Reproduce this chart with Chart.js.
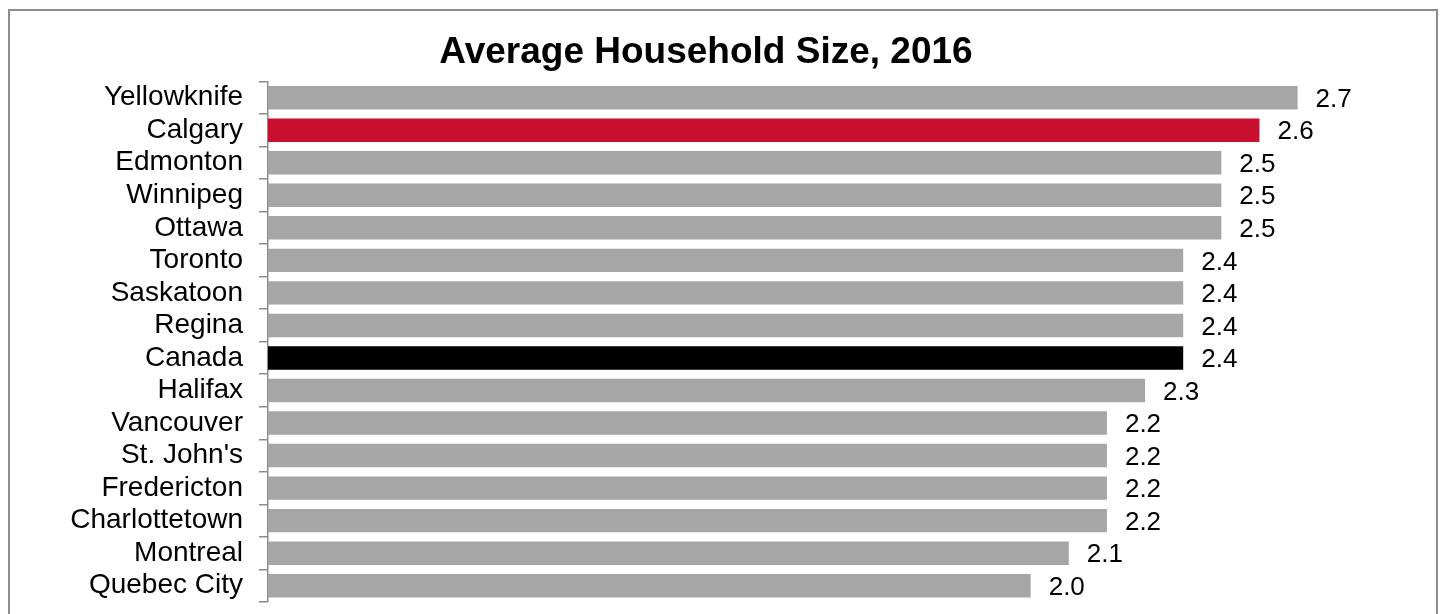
<!DOCTYPE html>
<html>
<head>
<meta charset="utf-8">
<script src="https://cdn.jsdelivr.net/npm/chart.js@4"></script>
<style>
  html, body { margin: 0; padding: 0; background: #fff; overflow: hidden; }
  #frame {
    position: absolute; left: 8px; top: 9px;
    width: 1426px; height: 700px;
    border: 2px solid #8c8c8c;
  }
  #chart { position: absolute; left: 0; top: 0; }
</style>
</head>
<body>
<div id="frame"></div>
<canvas id="chart" width="1442" height="614"></canvas>
<script>
// Data
const cities = ['Yellowknife', 'Calgary', 'Edmonton', 'Winnipeg', 'Ottawa', 'Toronto', 'Saskatoon',
  'Regina', 'Canada', 'Halifax', 'Vancouver', "St. John's", 'Fredericton', 'Charlottetown',
  'Montreal', 'Quebec City'];
const householdSize = [2.7, 2.6, 2.5, 2.5, 2.5, 2.4, 2.4, 2.4, 2.4, 2.3, 2.2, 2.2, 2.2, 2.2, 2.1, 2.0];

const barColors = cities.map(c => c === 'Calgary' ? '#C8102E' : (c === 'Canada' ? '#000000' : '#A6A6A6'));

// value labels at end of each bar
const valueLabels = {
  id: 'valueLabels',
  afterDatasetsDraw(chart) {
    const ctx = chart.ctx;
    const meta = chart.getDatasetMeta(0);
    ctx.save();
    ctx.font = '26px Arial, "Liberation Sans", sans-serif';
    ctx.fillStyle = '#000';
    ctx.textAlign = 'left';
    ctx.textBaseline = 'middle';
    meta.data.forEach((bar, i) => {
      ctx.fillText(householdSize[i].toFixed(1), bar.x + 18, bar.y + 2);
    });
    ctx.restore();
  }
};

new Chart(document.getElementById('chart'), {
  type: 'bar',
  data: {
    labels: cities,
    datasets: [{
      data: householdSize,
      backgroundColor: barColors,
      barPercentage: 0.72,
      categoryPercentage: 1.0
    }]
  },
  options: {
    indexAxis: 'y',
    responsive: false,
    animation: false,
    layout: { padding: { left: 0, right: 30, top: 0, bottom: 12 } },
    plugins: {
      legend: { display: false },
      tooltip: { enabled: false },
      title: {
        display: true,
        text: 'Average Household Size, 2016',
        color: '#000',
        font: { family: 'Arial, "Liberation Sans", sans-serif', size: 37, weight: 'bold' },
        padding: { top: 31, bottom: 6 }
      }
    },
    scales: {
      x: {
        display: false,
        min: 0,
        max: 3.0
      },
      y: {
        afterFit(scale) {
          scale.width = 268;
          scale.paddingTop = 0;
          scale.paddingBottom = 0;
        },
        border: { display: true, color: '#8c8c8c', width: 1.5 },
        grid: { drawOnChartArea: false, drawTicks: true, tickLength: 9, color: '#8c8c8c', lineWidth: 1.5 },
        ticks: {
          autoSkip: false,
          color: '#000',
          padding: 16,
          font: { family: 'Arial, "Liberation Sans", sans-serif', size: 28 }
        }
      }
    }
  },
  plugins: [valueLabels]
});
</script>
</body>
</html>
